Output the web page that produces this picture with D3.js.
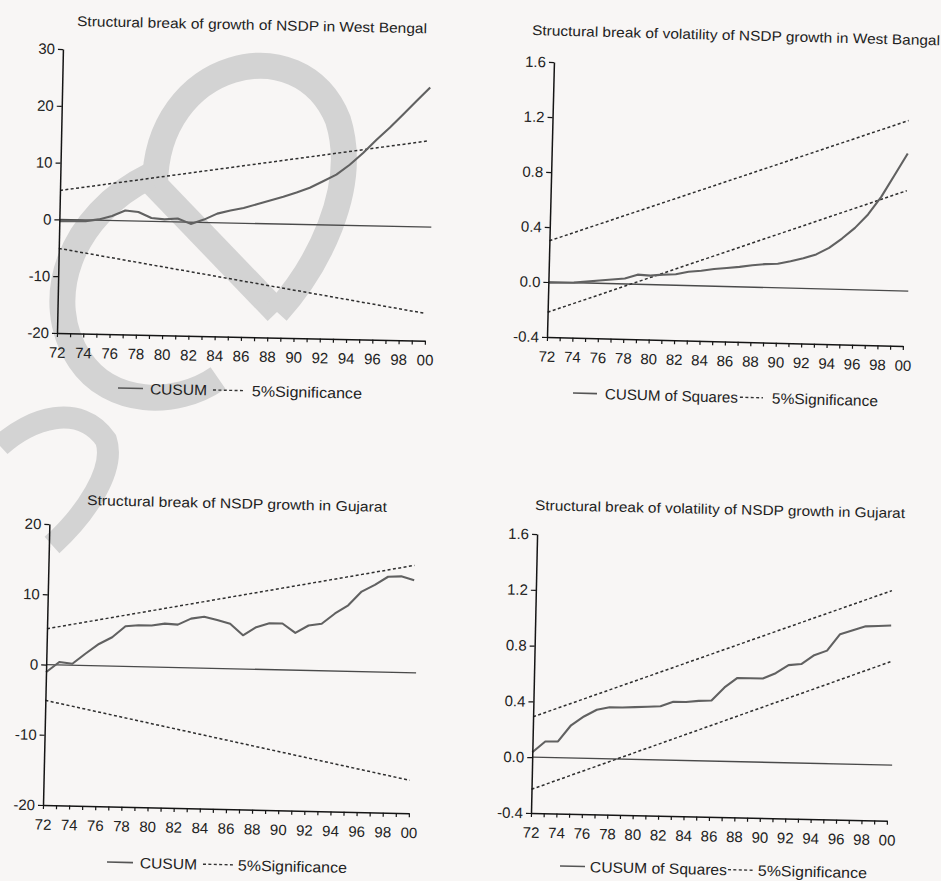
<!DOCTYPE html>
<html>
<head>
<meta charset="utf-8">
<script src="https://cdn.jsdelivr.net/npm/d3@7"></script>
<style>
  html, body { margin: 0; padding: 0; background: #f8f6f5; }
  svg { display: block; }
  text { font-family: "Liberation Sans", Arial, Helvetica, sans-serif; fill: #222; }
</style>
</head>
<body>
<svg id="chart" width="941" height="881"></svg>
<script>
// ---- Data -----------------------------------------------------------
const years = d3.range(1972, 2001);            // annual observations 1972-2000
const boundYears = [1972, 2000];                // ends of the 5% significance bands

// West Bengal: CUSUM of recursive residuals (growth of NSDP)
const wbCusum = [-0.3, -0.2, -0.2, 0.15, 0.8, 1.8, 1.6, 0.6, 0.4, 0.6,
                 -0.3, 0.5, 1.6, 2.2, 2.7, 3.4, 4.1, 4.8, 5.6, 6.5,
                 7.7, 8.9, 10.7, 12.8, 15.2, 17.4, 19.8, 22.2, 24.6];
const wbCusumUpper = [5.1, 15.2];
const wbCusumLower = [-5.1, -15.2];

// West Bengal: CUSUM of squares (volatility of NSDP growth)
const wbCusumSq = [-0.005, -0.003, 0.0, 0.01, 0.02, 0.03, 0.04, 0.07, 0.065, 0.075,
                   0.08, 0.10, 0.11, 0.125, 0.135, 0.145, 0.16, 0.17, 0.175, 0.195,
                   0.22, 0.25, 0.30, 0.37, 0.45, 0.55, 0.68, 0.84, 1.0];
const wbSqUpper = [0.30, 1.24];
const wbSqLower = [-0.22, 0.73];

// Gujarat: CUSUM (NSDP growth)
const gjCusum = [-1.1, 0.4, 0.2, 1.7, 3.1, 4.1, 5.7, 5.9, 5.9, 6.2,
                 6.1, 7.0, 7.3, 6.9, 6.4, 4.8, 6.0, 6.6, 6.6, 5.3,
                 6.4, 6.7, 8.2, 9.4, 11.4, 12.4, 13.6, 13.7, 13.2];
const gjCusumUpper = [5.1, 15.3];
const gjCusumLower = [-5.1, -15.3];

// Gujarat: CUSUM of squares (volatility of NSDP growth)
const gjCusumSq = [0.036, 0.115, 0.117, 0.235, 0.30, 0.35, 0.37, 0.37, 0.375, 0.38,
                   0.385, 0.42, 0.42, 0.43, 0.435, 0.53, 0.60, 0.60, 0.60, 0.64,
                   0.70, 0.71, 0.775, 0.81, 0.93, 0.96, 0.99, 0.995, 1.0];
const gjSqUpper = [0.29, 1.25];
const gjSqLower = [-0.23, 0.74];

const cusumTicks = [-20, -10, 0, 10, 20, 30];
const cusumTicksGj = [-20, -10, 0, 10, 20];
const sqTicks = [-0.4, 0.0, 0.4, 0.8, 1.2, 1.6];

// ---- Layout ---------------------------------------------------------
const panels = [
  { title: "Structural break of growth of NSDP in West Bengal",
    series: wbCusum, upper: wbCusumUpper, lower: wbCusumLower,
    yDomain: [-20, 30], yTicks: cusumTicks, fmt: d => String(d),
    seriesName: "CUSUM",
    origin: [57, 333], w: 368, h: 284, angle: 1.2,
    titleAt: [77, 26], titleLen: 350,
    legendAt: [118, 388], legend: { solid: 25, text1: 32, len1: 57, dashA: 95, dashB: 127, text2: 134, len2: 110 } },
  { title: "Structural break of volatility of NSDP growth in West Bangal",
    series: wbCusumSq, upper: wbSqUpper, lower: wbSqLower,
    yDomain: [-0.4, 1.6], yTicks: sqTicks, fmt: d => d.toFixed(1),
    seriesName: "CUSUM of Squares",
    origin: [547, 337], w: 356, h: 275, angle: 1.45,
    titleAt: [532, 35], titleLen: 408,
    legendAt: [573, 393], legend: { solid: 24, text1: 32, len1: 133, dashA: 167, dashB: 190, text2: 199, len2: 106 } },
  { title: "Structural break of NSDP growth in Gujarat",
    series: gjCusum, upper: gjCusumUpper, lower: gjCusumLower,
    yDomain: [-20, 20], yTicks: cusumTicksGj, fmt: d => String(d),
    seriesName: "CUSUM",
    origin: [43, 805], w: 366, h: 281, angle: 1.3,
    titleAt: [87, 505], titleLen: 300,
    legendAt: [107, 862], legend: { solid: 26, text1: 33, len1: 57, dashA: 96, dashB: 126, text2: 131, len2: 109 } },
  { title: "Structural break of volatility of NSDP growth in Gujarat",
    series: gjCusumSq, upper: gjSqUpper, lower: gjSqLower,
    yDomain: [-0.4, 1.6], yTicks: sqTicks, fmt: d => d.toFixed(1),
    seriesName: "CUSUM of Squares",
    origin: [531, 813], w: 356, h: 279, angle: 1.25,
    titleAt: [535, 510], titleLen: 370,
    legendAt: [560, 866], legend: { solid: 25, text1: 30, len1: 137, dashA: 168, dashB: 193, text2: 198, len2: 109 } }
];

const svg = d3.select("#chart");

// Faint grey watermark lettering on the page behind the charts
const mark = svg.append("g").attr("fill", "none").attr("stroke", "#d3d3d3").attr("stroke-width", 26);
mark.append("path").attr("d", "M150,180 L277,312");
mark.append("path").attr("d", "M155,186 C155,60 300,25 338,120 C360,190 315,270 277,312");
mark.append("path").attr("d", "M150,176 C70,215 40,300 80,360 C110,405 175,408 218,378");
mark.append("path").attr("stroke-width", 22).attr("d", "M0,446 C30,418 80,402 106,440 C116,470 85,515 52,545");

// ---- Panels ---------------------------------------------------------
panels.forEach(p => {
  const rad = p.angle * Math.PI / 180;
  const [ox, oy] = p.origin;
  // page position -> panel-local coordinates
  const local = (px, py) => {
    const dx = px - ox, dy = py - oy;
    return [dx * Math.cos(rad) + dy * Math.sin(rad), -dx * Math.sin(rad) + dy * Math.cos(rad)];
  };

  const g = svg.append("g").attr("transform", `translate(${ox},${oy}) rotate(${p.angle})`);

  const x = d3.scaleLinear().domain([years[0], years[years.length - 1]]).range([0, p.w]);
  const y = d3.scaleLinear().domain(p.yDomain).range([0, -p.h]);

  // zero reference line
  g.append("line")
    .attr("x1", x(years[0])).attr("x2", x(years[years.length - 1]) + 4)
    .attr("y1", y(0)).attr("y2", y(0))
    .attr("stroke", "#4a4a4a").attr("stroke-width", 1.3);

  // 5% significance bands
  const bandLine = d3.line().x(d => x(d[0])).y(d => y(d[1]));
  [p.upper, p.lower].forEach(b => {
    g.append("path")
      .attr("d", bandLine(boundYears.map((yr, i) => [yr, b[i]])))
      .attr("fill", "none").attr("stroke", "#2e2e2e")
      .attr("stroke-width", 1.5).attr("stroke-dasharray", "3,2.4");
  });

  // CUSUM / CUSUM of squares
  g.append("path")
    .attr("d", d3.line().x((d, i) => x(years[i])).y(d => y(d))(p.series))
    .attr("fill", "none").attr("stroke", "#616161").attr("stroke-width", 2.1)
    .attr("stroke-linejoin", "round");

  // axes
  const xAxis = d3.axisBottom(x).tickValues(years)
    .tickFormat(d => d % 2 === 0 ? String(d).slice(2) : "")
    .tickSize(4).tickSizeOuter(0).tickPadding(10);
  const yAxis = d3.axisLeft(y).tickValues(p.yTicks).tickFormat(p.fmt)
    .tickSize(5).tickSizeOuter(0).tickPadding(3);

  const gx = g.append("g").call(xAxis);
  const gy = g.append("g").call(yAxis);
  [gx, gy].forEach(a => {
    a.select(".domain").attr("stroke", "#151515").attr("stroke-width", 1.5);
    a.selectAll(".tick line").attr("stroke", "#151515").attr("stroke-width", 1.2);
    a.selectAll(".tick text").attr("font-size", 15).attr("fill", "#222")
      .attr("font-family", '"Liberation Sans", Arial, sans-serif');
  });

  // title
  const tp = local(p.titleAt[0], p.titleAt[1]);
  g.append("text").attr("x", tp[0]).attr("y", tp[1])
    .attr("font-size", 14).attr("textLength", p.titleLen).attr("lengthAdjust", "spacingAndGlyphs")
    .text(p.title);

  // legend
  const lp = local(p.legendAt[0], p.legendAt[1]);
  const L = p.legend;
  const lg = g.append("g").attr("transform", `translate(${lp[0]},${lp[1]})`);
  lg.append("line").attr("x1", 0).attr("x2", L.solid).attr("y1", 0).attr("y2", 0)
    .attr("stroke", "#555").attr("stroke-width", 1.6);
  lg.append("text").attr("x", L.text1).attr("y", 5.5).attr("font-size", 15)
    .attr("textLength", L.len1).attr("lengthAdjust", "spacingAndGlyphs").text(p.seriesName);
  lg.append("line").attr("x1", L.dashA).attr("x2", L.dashB).attr("y1", 0).attr("y2", 0)
    .attr("stroke", "#333").attr("stroke-width", 1.4).attr("stroke-dasharray", "3,2.4");
  lg.append("text").attr("x", L.text2).attr("y", 5.5).attr("font-size", 15)
    .attr("textLength", L.len2).attr("lengthAdjust", "spacingAndGlyphs").text("5%Significance");
});
</script>
</body>
</html>
